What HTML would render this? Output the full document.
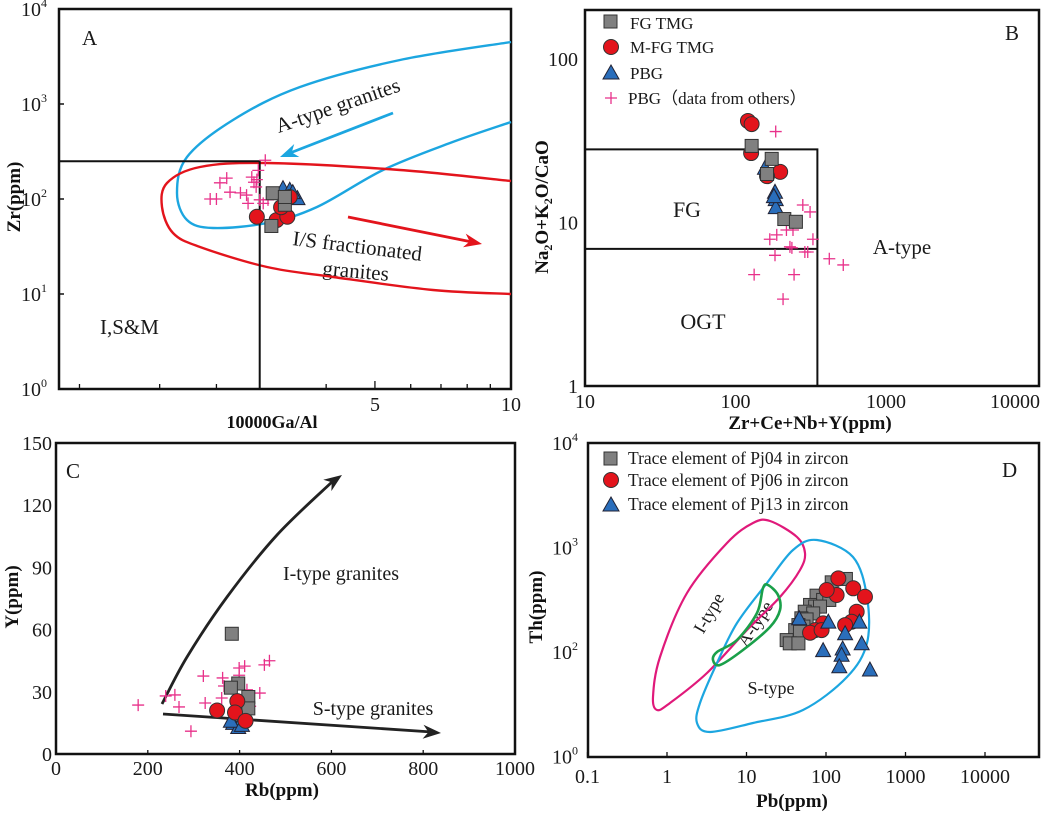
<!DOCTYPE html>
<html><head><meta charset="utf-8">
<style>
html,body{margin:0;padding:0;background:#fff;}
svg{display:block;}
svg text{font-family:"Liberation Serif","DejaVu Serif",serif;}
.t{fill:#1a1a1a;}
.b{font-weight:bold;fill:#111;}
</style></head>
<body>
<svg id="fig" width="1052" height="813" viewBox="0 0 1052 813" xmlns="http://www.w3.org/2000/svg" font-family="Liberation Serif, serif">
<g id="panelA">
 <rect x="59" y="9" width="452" height="380" fill="none" stroke="#111" stroke-width="2.5"/>
 <text x="82" y="45" class="t" font-size="21">A</text>
 <text x="100" y="334" class="t" font-size="21">I,S&amp;M</text>
 <text x="340" y="112" class="t" font-size="21" text-anchor="middle" transform="rotate(-19 340 112)">A-type granites</text>
 <text x="292" y="245" class="t" font-size="21" transform="rotate(7 292 245)">I/S fractionated</text>
 <text x="322" y="275" class="t" font-size="21" transform="rotate(5 322 275)">granites</text>
 <text x="20" y="197" class="b" font-size="19" text-anchor="middle" transform="rotate(-90 20 197)">Zr(ppm)</text>
 <text x="272" y="428" class="b" font-size="18" text-anchor="middle">10000Ga/Al</text>
 <text x="375" y="411" class="t" font-size="20" text-anchor="middle">5</text>
 <text x="511" y="411" class="t" font-size="20" text-anchor="middle">10</text>
</g>
<g id="panelB">
 <rect x="585" y="10" width="454" height="376" fill="none" stroke="#111" stroke-width="2.5"/>
 <text x="1005" y="40" class="t" font-size="21">B</text>
 <text x="687" y="217" class="t" font-size="22" text-anchor="middle">FG</text>
 <text x="703" y="329" class="t" font-size="22" text-anchor="middle">OGT</text>
 <text x="902" y="254" class="t" font-size="21" text-anchor="middle">A-type</text>
 <text x="548" y="207" class="b" font-size="19" text-anchor="middle" transform="rotate(-90 548 207)">Na<tspan font-size="12" dy="4">2</tspan><tspan dy="-4">O+K</tspan><tspan font-size="12" dy="4">2</tspan><tspan dy="-4">O/CaO</tspan></text>
 <text x="810" y="429" class="b" font-size="19" text-anchor="middle">Zr+Ce+Nb+Y(ppm)</text>
 <g id="legB">
  <rect x="604" y="15" width="13" height="13" fill="#808080" stroke="#333"/>
  <text x="630" y="29" class="t" font-size="17">FG TMG</text>
  <circle cx="611" cy="47" r="7.5" fill="#e3141c" stroke="#333"/>
  <text x="630" y="53" class="t" font-size="17">M-FG TMG</text>
  <path d="M603 79 L611 65 L619 79 Z" fill="#2a6ebb" stroke="#223"/>
  <text x="630" y="79" class="t" font-size="17">PBG</text>
  <path d="M605 98 H617 M611 92 V104" stroke="#e8318a" stroke-width="1.3"/>
  <text x="628" y="104" class="t" font-size="17">PBG（data from others）</text>
 </g>
</g>
<g id="panelC">
 <rect x="56" y="443" width="459" height="311" fill="none" stroke="#111" stroke-width="2.5"/>
 <text x="66" y="478" class="t" font-size="21">C</text>
 <text x="341" y="580" class="t" font-size="20" text-anchor="middle">I-type granites</text>
 <text x="373" y="715" class="t" font-size="20" text-anchor="middle">S-type granites</text>
 <text x="18" y="597" class="b" font-size="19" text-anchor="middle" transform="rotate(-90 18 597)">Y(ppm)</text>
 <text x="282" y="796" class="b" font-size="19" text-anchor="middle">Rb(ppm)</text>
</g>
<g id="panelD">
 <rect x="588" y="443" width="451" height="314" fill="none" stroke="#111" stroke-width="2.5"/>
 <text x="1002" y="477" class="t" font-size="21">D</text>
 <g id="legD">
  <rect x="604" y="452" width="13" height="13" fill="#808080" stroke="#333"/>
  <text x="628" y="464" class="t" font-size="17.5">Trace element of Pj04 in zircon</text>
  <circle cx="611" cy="480" r="7.5" fill="#e3141c" stroke="#333"/>
  <text x="628" y="486" class="t" font-size="17.5">Trace element of Pj06 in zircon</text>
  <path d="M603 511 L611 497 L619 511 Z" fill="#2a6ebb" stroke="#223"/>
  <text x="628" y="510" class="t" font-size="17.5">Trace element of Pj13 in zircon</text>
 </g>
 <text x="714" y="616" class="t" font-size="18" text-anchor="middle" transform="rotate(-60 714 616)">I-type</text>
 <text x="760" y="627" class="t" font-size="18" text-anchor="middle" transform="rotate(-57 760 627)">A-type</text>
 <text x="771" y="694" class="t" font-size="18" text-anchor="middle">S-type</text>
 <text x="542" y="607" class="b" font-size="19" text-anchor="middle" transform="rotate(-90 542 607)">Th(ppm)</text>
 <text x="792" y="807" class="b" font-size="19" text-anchor="middle">Pb(ppm)</text>
</g>
</svg>
<script>
// ---------- Panel A data (10000Ga/Al vs Zr) ----------
const aPlusX = [2.16,2.23,2.27,2.35,2.39,2.52,2.62,2.67,2.70,2.73,2.76,2.78,2.83,2.86,2.90,2.74,2.60];
const aPlusY = [100,100,148,166,118,116,90,170,150,134,200,98,90,256,98,160,110];
const aSqX = [2.97,3.16,2.95,3.16];
const aSqY = [115,87,52,105];
const aCirX = [2.74,3.03,3.20,3.24,3.10];
const aCirY = [65,60,65,105,82];
const aTriX = [3.13,3.24,3.37,3.29];
const aTriY = [130,125,102,118];
const aYTicks = [0,1,2,3,4];
const aXMinor = [1.11,1.67,2.23,3.9,5,6,7,8,9];
// ---------- Panel B data ----------
const bCirX = [121,128,127,198,162];
const bCirY = [41.8,40,26.6,20.4,19.2];
const bSqX = [128,174,162,211,252];
const bSqY = [29.4,24.5,19.8,10.5,10.1];
const bTriX = [157,183,185,185,180];
const bTriY = [21.6,15.4,13.9,12.4,14.5];
const bPlusX = [185,280,313,218,241,188,169,327,230,237,289,302,183,420,520,133,245,207];
const bPlusY = [36,12.8,11.6,9.0,9.0,8.4,7.9,7.9,7.1,7.0,6.6,6.6,6.3,6.0,5.5,4.8,4.8,3.4];
const bXTicks = [10,100,1000,10000];
const bYTicks = [1,10,100];
// ---------- Panel C data ----------
const cSqX = [383,397,381,419,419];
const cSqY = [58,34,32,27.5,22];
const cTriX = [386,397,381,405];
const cTriY = [15,13,16,14];
const cCirX = [351,395,390,413];
const cCirY = [21,25.5,20,16];
const cPlusX = [179,239,259,268,294,321,325,363,366,361,399,411,399,444,454,465,423,416];
const cPlusY = [23.6,28,28.5,22.7,11,37.6,24.6,36.7,32.8,27,41.5,42.4,38,29.4,43,45,23,31];
const cXTicks = [0,200,400,600,800,1000];
const cYTicks = [0,30,60,90,120,150];
// ---------- Panel D data ----------
const dSqX = [178,118,76,92,110,63,73,84,54,69,49,57,45,52,41,47,32,35,45];
const dSqY = [500,464,346,315,315,282,272,272,243,234,210,205,181,175,162,156,130,121,121];
const dCirX = [143,220,309,136,102,243,210,174,92,73,63,88];
const dCirY = [507,407,338,351,392,243,195,181,188,162,153,162];
const dTriX = [46,107,263,174,92,162,157,147,281,357];
const dTriY = [210,195,195,151,104,108,94,73,121,68];
const dXTicks = [0.1,1,10,100,1000,10000];
const dXLabels = ["0.1","1","10","100","1000","10000"];

const L = Math.log10;
const ax = v => 59 + 452*L(v), ay = v => 389 - 95*L(v);
const bx = v => 585 + 150.5*(L(v)-1), by = v => 386 - 163.5*L(v);
const cx = v => 56 + 0.459*v, cy = v => 754 - 2.073*v;
const dx = v => 587.5 + 79.5*(L(v)+1), dy = v => 443 + 104.5*(4-L(v));

const NS = "http://www.w3.org/2000/svg";
function mk(parent, tag, attrs){const e=document.createElementNS(NS,tag);for(const k in attrs)e.setAttribute(k,attrs[k]);document.getElementById(parent).appendChild(e);return e;}
function smooth(pts, closed){
  const n=pts.length;let d="M"+pts[0][0]+" "+pts[0][1];
  const P=i=>closed?pts[(i+n)%n]:pts[Math.max(0,Math.min(n-1,i))];
  const m=closed?n:n-1;
  for(let i=0;i<m;i++){const p0=P(i-1),p1=P(i),p2=P(i+1),p3=P(i+2);
    d+=" C"+(p1[0]+(p2[0]-p0[0])/6)+" "+(p1[1]+(p2[1]-p0[1])/6)+" "+(p2[0]-(p3[0]-p1[0])/6)+" "+(p2[1]-(p3[1]-p1[1])/6)+" "+p2[0]+" "+p2[1];}
  return d+(closed?" Z":"");
}
function sq(g,x,y,s){return mk(g,"rect",{x:x-s/2,y:y-s/2,width:s,height:s,fill:"#808080",stroke:"#333","stroke-width":1});}
function ci(g,x,y,r){return mk(g,"circle",{cx:x,cy:y,r:r,fill:"#e3141c",stroke:"#333","stroke-width":1});}
function tri(g,x,y,s){return mk(g,"path",{d:`M${x-s/2} ${y+s*0.43} L${x} ${y-s*0.5} L${x+s/2} ${y+s*0.43} Z`,fill:"#2a6ebb",stroke:"#223","stroke-width":1});}
function plus(g,x,y,s){return mk(g,"path",{d:`M${x-s} ${y} H${x+s} M${x} ${y-s} V${y+s}`,stroke:"#e8318a","stroke-width":1.3,fill:"none"});}
function arrowHead(g,x1,y1,x2,y2,col,len,w){const a=Math.atan2(y2-y1,x2-x1);const p=(l,o)=>[x2-l*Math.cos(a)+o*Math.sin(a),y2-l*Math.sin(a)-o*Math.cos(a)];
  const A=p(len,w),B=p(len*0.7,0),C=p(len,-w);return mk(g,"path",{d:`M${x2} ${y2} L${A[0]} ${A[1]} L${B[0]} ${B[1]} L${C[0]} ${C[1]} Z`,fill:col});}
let el;

// ===== Panel A =====
el = mk("panelA","path",{d:smooth([[511,42],[400,60],[300,87],[233,120],[187,157],[177,193],[187,220],[213,228],[267,223],[317,207],[383,170],[450,143],[511,122]],false),fill:"none",stroke:"#1ca6e0","stroke-width":2.4});


el = mk("panelA","path",{d:smooth([[511,181],[400,170],[267,163],[200,167],[167,183],[162,207],[173,233],[200,247],[267,267],[333,277],[433,290],[511,294]],false),fill:"none",stroke:"#e3141c","stroke-width":2.4});


el = mk("panelA","path",{d:`M${ax(1)} ${ay(250)} H${ax(2.78)} V${ay(1)}`,fill:"none",stroke:"#111","stroke-width":2});


el = mk("panelA","line",{x1:393,y1:113,x2:290,y2:153,stroke:"#1ca6e0","stroke-width":2.8});


el = arrowHead("panelA",393,113,280,157,"#1ca6e0",18,7);


el = mk("panelA","line",{x1:348,y1:217,x2:472,y2:242,stroke:"#e3141c","stroke-width":2.8});


el = arrowHead("panelA",348,217,482,244,"#e3141c",18,7);


aYTicks.forEach(p=>{
  el = mk("panelA","line",{x1:59,y1:ay(Math.pow(10,p)),x2:64,y2:ay(Math.pow(10,p)),stroke:"#111","stroke-width":1.5});
  
  
  const t = mk("panelA","text",{x:47,y:ay(Math.pow(10,p))+7,"text-anchor":"end",class:"t","font-size":"20"});
  t.innerHTML = "10<tspan font-size='12' dy='-9'>"+p+"</tspan>";
  
  
});
aXMinor.forEach(v=>{
  el = mk("panelA","line",{x1:ax(v),y1:389,x2:ax(v),y2:v===5?381:384,stroke:"#111","stroke-width":1.3});
  
  
});
aPlusX.forEach((v,i)=>{el=plus("panelA",ax(v),ay(aPlusY[i]),6);
  
  });
aTriX.forEach((v,i)=>{el=tri("panelA",ax(v),ay(aTriY[i]),15);
  
  });
aCirX.forEach((v,i)=>{el=ci("panelA",ax(v),ay(aCirY[i]),7.5);
  
  });
aSqX.forEach((v,i)=>{el=sq("panelA",ax(v),ay(aSqY[i]),13);
  
  });

// ===== Panel B =====
el = mk("panelB","path",{d:`M${bx(10)} ${by(28)} H${bx(350)} V${by(1)} M${bx(10)} ${by(6.9)} H${bx(350)}`,fill:"none",stroke:"#111","stroke-width":2});


bXTicks.forEach((v,i)=>{
  const last = i===bXTicks.length-1;
  const t = mk("panelB","text",{x:last?1040:bx(v),y:408,"text-anchor":last?"end":"middle",class:"t","font-size":"20"});
  t.textContent = String(v);
  
  
});
bYTicks.forEach(v=>{
  const t = mk("panelB","text",{x:578,y:by(v)+7,"text-anchor":"end",class:"t","font-size":"20"});
  t.textContent = String(v);
  
  
});
bPlusX.forEach((v,i)=>{el=plus("panelB",bx(v),by(bPlusY[i]),6);
  
  });
bCirX.forEach((v,i)=>{el=ci("panelB",bx(v),by(bCirY[i]),7.5);
  
  });
bTriX.forEach((v,i)=>{el=tri("panelB",bx(v),by(bTriY[i]),15);
  
  });
bSqX.forEach((v,i)=>{el=sq("panelB",bx(v),by(bSqY[i]),13);
  
  });

// ===== Panel C =====
cXTicks.forEach(v=>{
  const t = mk("panelC","text",{x:cx(v),y:775,"text-anchor":"middle",class:"t","font-size":"20"});
  t.textContent = String(v);
  
  
  el = mk("panelC","line",{x1:cx(v),y1:754,x2:cx(v),y2:750,stroke:"#111","stroke-width":1.3});
  
  
});
cYTicks.forEach(v=>{
  const t = mk("panelC","text",{x:52,y:cy(v)+7,"text-anchor":"end",class:"t","font-size":"20"});
  t.textContent = String(v);
  
  
});
el = mk("panelC","path",{d:smooth([[162,704],[187,657],[227,597],[277,535],[333,481]],false),fill:"none",stroke:"#222","stroke-width":2.8});


el = arrowHead("panelC",318,492,342,475,"#222",18,7);


el = mk("panelC","line",{x1:163,y1:714,x2:432,y2:732,stroke:"#222","stroke-width":2.8});


el = arrowHead("panelC",163,714,441,733,"#222",18,7);


cPlusX.forEach((v,i)=>{el=plus("panelC",cx(v),cy(cPlusY[i]),6);
  
  });
cTriX.forEach((v,i)=>{el=tri("panelC",cx(v),cy(cTriY[i]),15);
  
  });
cSqX.forEach((v,i)=>{el=sq("panelC",cx(v),cy(cSqY[i]),13);
  
  });
cCirX.forEach((v,i)=>{el=ci("panelC",cx(v),cy(cCirY[i]),7.5);
  
  });

// ===== Panel D =====
el = mk("panelD","path",{d:smooth([[770,521],[797,537],[805,553],[800,570],[780,597],[747,630],[707,673],[670,703],[657,710],[653,697],[660,657],[687,593],[727,543],[753,523]],true),fill:"none",stroke:"#e0197a","stroke-width":2.2});


el = mk("panelD","path",{d:smooth([[817,540],[853,557],[867,597],[867,643],[847,677],[803,710],[753,723],[710,732],[697,723],[700,703],[717,663],[737,623],[767,583],[793,550]],true),fill:"none",stroke:"#1ca6e0","stroke-width":2.2});


el = mk("panelD","path",{d:smooth([[768,585],[778,595],[780,610],[770,627],[743,650],[720,665],[713,660],[717,652],[737,640],[757,613],[763,588]],true),fill:"none",stroke:"#1aa04a","stroke-width":2.6});


dXTicks.forEach((v,i)=>{
  const t = mk("panelD","text",{x:dx(v),y:783,"text-anchor":"middle",class:"t","font-size":"20"});
  t.textContent = dXLabels[i];
  
  
  el = mk("panelD","line",{x1:dx(v),y1:757,x2:dx(v),y2:752,stroke:"#111","stroke-width":1.3});
  
  
});
[[1e4,"4"],[1e3,"3"],[1e2,"2"],[10,"0"]].forEach(p=>{
  const t = mk("panelD","text",{x:578,y:dy(p[0])+7,"text-anchor":"end",class:"t","font-size":"20"});
  t.innerHTML = "10<tspan font-size='12' dy='-9'>"+p[1]+"</tspan>";
  
  
});
dSqX.forEach((v,i)=>{el=sq("panelD",dx(v),dy(dSqY[i]),13);
  
  });
dCirX.forEach((v,i)=>{el=ci("panelD",dx(v),dy(dCirY[i]),7.5);
  
  });
dTriX.forEach((v,i)=>{el=tri("panelD",dx(v),dy(dTriY[i]),15);
  
  });
</script>
</body></html>
